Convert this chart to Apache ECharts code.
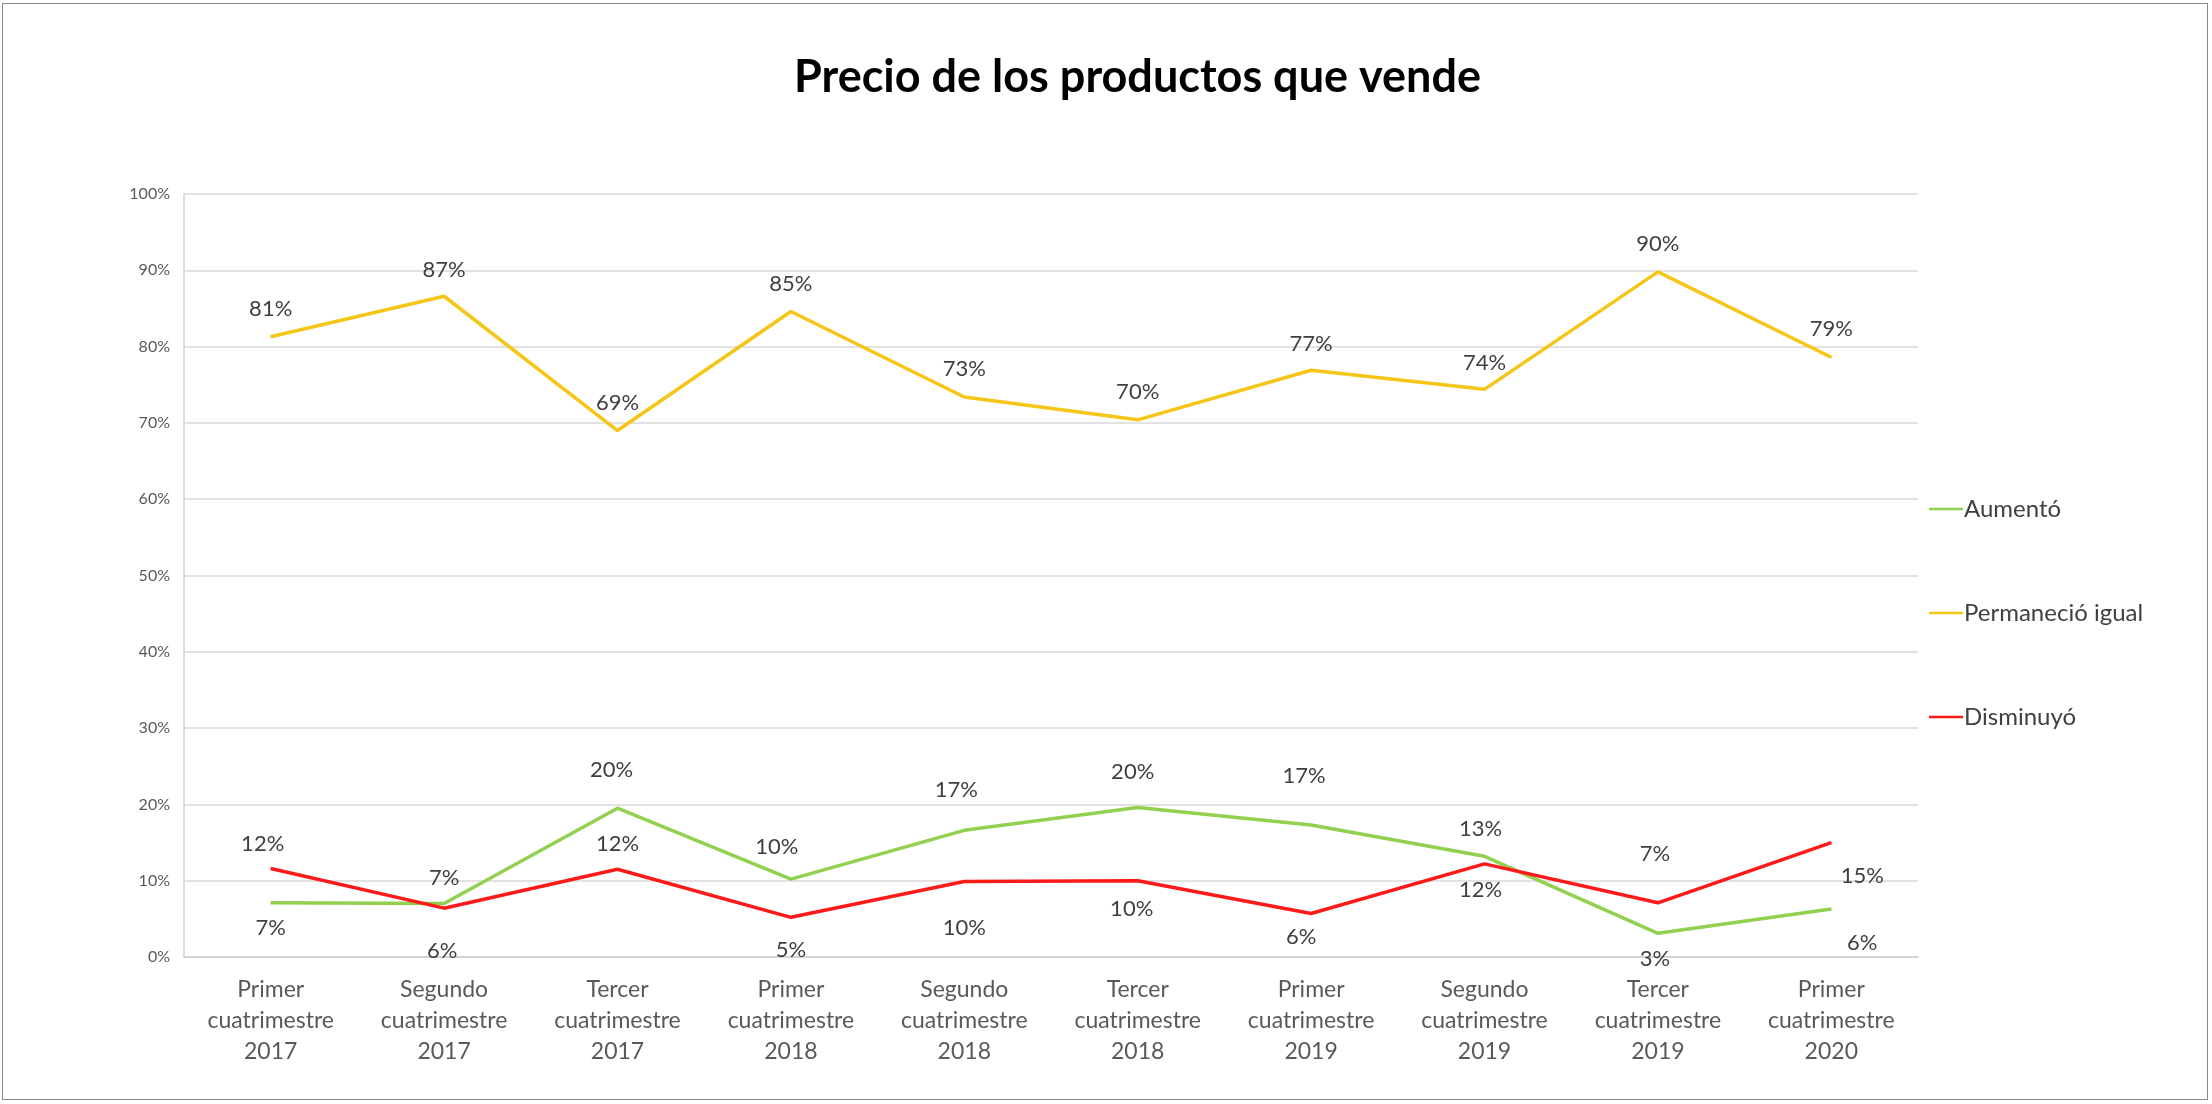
<!DOCTYPE html>
<html>
<head>
<meta charset="utf-8">
<title>Precio de los productos que vende</title>
<script src="https://cdn.jsdelivr.net/npm/echarts@6/dist/echarts.min.js"></script>
<style>
    html, body { margin: 0; padding: 0; background: #fff; }
    #chart {
        position: absolute; left: 2px; top: 3px;
        width: 2204px; height: 1095px;
        border: 1px solid #8a8a8a;
        background: #fff;
    }
</style>
</head>
<body>
<div id="chart"></div>
<script>
// categorías (eje X)
const categories = [
    'Primer\ncuatrimestre\n2017', 'Segundo\ncuatrimestre\n2017', 'Tercer\ncuatrimestre\n2017',
    'Primer\ncuatrimestre\n2018', 'Segundo\ncuatrimestre\n2018', 'Tercer\ncuatrimestre\n2018',
    'Primer\ncuatrimestre\n2019', 'Segundo\ncuatrimestre\n2019', 'Tercer\ncuatrimestre\n2019',
    'Primer\ncuatrimestre\n2020'
];

// series (porcentajes)
const aumento = [7.1, 7.0, 19.5, 10.2, 16.6, 19.6, 17.3, 13.2, 3.1, 6.3];
const permanecio = [81.3, 86.6, 69.0, 84.6, 73.4, 70.4, 76.9, 74.4, 89.8, 78.6];
const disminuyo = [11.6, 6.4, 11.5, 5.2, 9.9, 10.0, 5.7, 12.2, 7.1, 15.0];

// posición de las etiquetas de cada punto
const aumentoLabelPos = ['bottom', 'top', 'top', 'top', 'top', 'top', 'top', 'top', 'bottom', 'bottom'];
const permanecioLabelPos = ['top', 'top', 'top', 'top', 'top', 'top', 'top', 'top', 'top', 'top'];
const disminuyoLabelPos = ['top', 'bottom', 'top', 'bottom', 'bottom', 'bottom', 'bottom', 'bottom', 'top', 'bottom'];

// pequeños desplazamientos [dx, dy] como en el original
const aumentoLabelOff = [[0, 0], [0, 0], [-6, -13], [-14, -7], [-8, -15], [-5, -10], [-7, -24], [-4, -2], [-3, 0], [31, 8]];
const permanecioLabelOff = [[0, -2], [0, -1], [0, -2], [0, -2], [0, -3], [0, -2], [0, -1], [0, -1], [0, -2], [0, -3]];
const disminuyoLabelOff = [[-8, 1], [-2, 17], [0, 0], [0, 7], [0, 21], [-6, 3], [-10, -2], [-4, 0], [-3, -23], [31, 8]];

const FONT = 'Lato, "Open Sans", sans-serif';

function buildData(values, positions, offsets) {
    return values.map((v, i) => ({
        value: v,
        label: { position: positions[i], offset: offsets[i] }
    }));
}

function makeSeries(name, values, positions, offsets, color) {
    return {
        name: name,
        type: 'line',
        data: buildData(values, positions, offsets),
        // símbolo diminuto para que las etiquetas se dibujen
        symbol: 'circle',
        symbolSize: 1,
        showSymbol: true,
        lineStyle: { color: color, width: 3.5 },
        itemStyle: { color: color },
        label: {
            show: true,
            distance: 14,
            fontFamily: FONT,
            fontSize: 22,
            color: '#404040',
            formatter: p => Math.round(p.value) + '%'
        },
        animation: false
    };
}

const chart = echarts.init(document.getElementById('chart'));
chart.setOption({
    animation: false,
    title: {
        text: 'Precio de los productos que vende',
        left: 786,
        top: 46,
        textStyle: { fontFamily: FONT, fontSize: 45, fontWeight: 'bold', color: '#000' }
    },
    grid: { left: 181, right: 289, top: 190, bottom: 142 },
    legend: {
        orient: 'vertical',
        left: 1921,
        top: 488,
        itemGap: 80,
        itemWidth: 34,
        itemHeight: 2.5,
        icon: 'rect',
        textStyle: { fontFamily: FONT, fontSize: 24, color: '#404040', padding: [0, 0, 0, -4] },
        data: ['Aumentó', 'Permaneció igual', 'Disminuyó']
    },
    xAxis: {
        type: 'category',
        data: categories,
        boundaryGap: true,
        axisLine: { lineStyle: { color: '#d0d0d0', width: 1.5 } },
        axisTick: { show: false },
        axisLabel: {
            fontFamily: FONT, fontSize: 23, color: '#595959',
            lineHeight: 31, margin: 17, interval: 0
        }
    },
    yAxis: {
        type: 'value',
        min: 0,
        max: 100,
        interval: 10,
        axisLine: { show: true, lineStyle: { color: '#d0d0d0', width: 1.5 } },
        axisTick: { show: false },
        splitLine: { lineStyle: { color: '#d9d9d9', width: 1.5 } },
        axisLabel: {
            fontFamily: FONT, fontSize: 16, color: '#595959',
            margin: 14, formatter: '{value}%'
        }
    },
    series: [
        makeSeries('Aumentó', aumento, aumentoLabelPos, aumentoLabelOff, '#92D050'),
        makeSeries('Permaneció igual', permanecio, permanecioLabelPos, permanecioLabelOff, '#F5C518'),
        makeSeries('Disminuyó', disminuyo, disminuyoLabelPos, disminuyoLabelOff, '#FF1A1A')
    ]
});
</script>
</body>
</html>
